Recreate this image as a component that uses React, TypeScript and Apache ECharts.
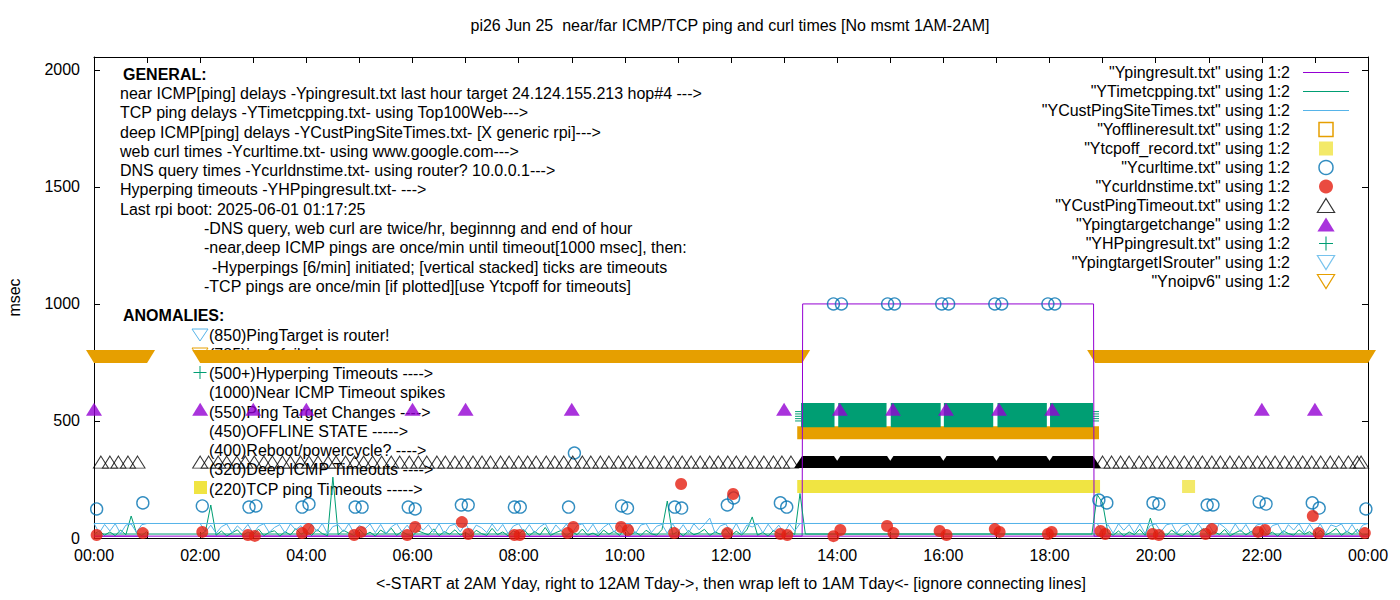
import React, { useEffect, useRef } from 'react';
import * as echarts from 'echarts';

const FONT = '"Liberation Sans", Arial, Helvetica, sans-serif';
const PURPLE = '#9400d3';
const GREEN = '#009e73';
const SKY = '#56b4e9';
const ORANGE = '#e69f00';
const YELLOW = '#f0e442';
const BLUE = '#0072b2';
const RED = '#e51e10';
const BLACK = '#000000';
const CLEAR = 'rgba(0,0,0,0)';

const TITLE = 'pi26 Jun 25 \u00a0near/far ICMP/TCP ping and curl times [No msmt 1AM-2AM]';
const X_NAME = '<-START at 2AM Yday, right to 12AM Tday->, then wrap left to 1AM Tday<- [ignore connecting lines]';
const Y_NAME = 'msec';

const X_TICK_LABELS = ['00:00', '02:00', '04:00', '06:00', '08:00', '10:00', '12:00', '14:00', '16:00', '18:00', '20:00', '22:00', '00:00'];
const Y_TICK_VALUES = [0, 500, 1000, 1500, 2000];

const N_PING = '"Ypingresult.txt" using 1:2';
const N_TCP = '"YTimetcpping.txt" using 1:2';
const N_DEEP = '"YCustPingSiteTimes.txt" using 1:2';
const N_OFFLINE = '"Yofflineresult.txt" using 1:2';
const N_TCPOFF = '"Ytcpoff_record.txt" using 1:2';
const N_CURL = '"Ycurltime.txt" using 1:2';
const N_DNS = '"Ycurldnstime.txt" using 1:2';
const N_CUSTTO = '"YCustPingTimeout.txt" using 1:2';
const N_TARGET = '"Ypingtargetchange" using 1:2';
const N_HP = '"YHPpingresult.txt" using 1:2';
const N_ISROUTER = '"YpingtargetISrouter" using 1:2';
const N_NOIPV6 = '"Ynoipv6" using 1:2';

// ---- data (hours of day; file order = 2AM..24h, then wraps to 0..1AM) ----
const pingTimes = [2.0, 5.0, 8.0, 11.0, 13.34, 13.35, 18.83, 18.84, 21.5, 24.0, 0.0, 1.0];
const pingValues = [8, 8, 7, 8, 8, 1000, 1000, 8, 8, 8, 8, 8];

const SAMPLE_STEP_H = 0.1;

const deepStartA = 2.0;
const deepA = [
  62, 25, 55, 20, 48, 60, 22, 52, 30, 58,
  19, 50, 61, 24, 45, 57, 21, 60, 35, 53,
  22, 59, 28, 62, 18, 49, 56, 26, 61, 20,
  54, 38, 60, 23, 58, 19, 47, 62, 27, 55,
  21, 60, 33, 57, 24, 61, 18, 52, 59, 26,
  62, 20, 55, 44, 23, 60, 29, 58, 19, 51,
  61, 25, 57, 22, 48, 62, 20, 56, 31, 60,
  18, 53, 61, 27, 59, 21, 46, 62, 24, 57,
  30, 60, 19, 55, 62, 23, 50, 58, 20, 61,
  26, 57, 22, 61, 35, 58, 85, 21, 52, 60,
  24, 62, 19, 56, 47, 60, 22, 59, 28, 55,
  21, 60, 30, 62,
];
const deepStartB = 18.9;
const deepB = [
  62,
  24, 57, 20, 61, 33, 58, 22, 60, 19, 54,
  60, 27, 56, 62, 21, 50, 59, 23, 61, 30,
  57, 19, 62, 45, 22, 60, 26, 58, 20, 55,
  61, 24, 53, 60, 19, 57, 34, 62, 22, 59,
  25, 61, 20, 56, 48, 60, 23, 58, 21, 55,
  62,
];
const deepStartC = 0.0;
const deepC = [62, 22, 58, 30, 61, 19, 55, 60, 24, 57, 62];

const tcpStartA = 2.0;
const tcpA = [
  15, 28, 141, 12, 30, 9, 22, 35, 11, 26,
  14, 38, 10, 24, 31, 8, 27, 13, 40, 16,
  29, 11, 36, 19, 9, 260, 14, 33, 21, 10,
  37, 12, 25, 8, 34, 18, 42, 11, 28, 15,
  9, 31, 22, 13, 39, 10, 27, 16, 35, 12,
  24, 8, 33, 19, 11, 41, 14, 26, 9, 30,
  17, 36, 10, 28, 13, 45, 11, 23, 32, 9,
  27, 14, 38, 12, 21, 9, 34, 16, 29, 11,
  40, 13, 25, 10, 33, 18, 12, 36, 158, 15,
  28, 9, 31, 14, 22, 37, 11, 26, 16, 39,
  10, 29, 13, 35, 90, 12, 24, 8, 32, 18,
  11, 27, 15, 190, 17,
];
const tcpStartB = 18.8;
const tcpB = [
  17, 185,
  150, 22, 12, 30, 9, 26, 14, 37, 11, 85,
  13, 28, 10, 34, 17, 9, 31, 12, 24, 40,
  11, 27, 15, 36, 9, 22, 33, 13, 29, 10,
  38, 14, 25, 8, 31, 19, 12, 35, 16, 27,
  10, 33, 13, 24, 41, 11, 29, 15, 37, 12,
  17,
];
const tcpStartC = 0.0;
const tcpC = [17, 30, 12, 26, 10, 34, 14, 94, 22, 11, 28];

const curlTimes = [0.05, 0.92, 2.04, 2.92, 3.05, 3.92, 4.05, 4.92, 5.05, 5.92, 6.05, 6.92, 7.05, 7.92, 8.03, 8.94, 9.05, 9.94, 10.05, 10.94, 11.07, 11.93, 12.05, 12.93, 13.05, 13.93, 14.08, 14.95, 15.08, 15.97, 16.1, 16.97, 17.1, 17.97, 18.1, 18.93, 19.08, 19.95, 20.06, 20.97, 21.08, 21.95, 22.08, 22.95, 23.08, 23.96];
const curlValues = [124, 150, 137, 132, 137, 132, 145, 132, 132, 132, 124, 141, 141, 132, 132, 132, 363, 137, 128, 132, 128, 141, 171, 150, 132, 1000, 1000, 1000, 1000, 1000, 1000, 1000, 1000, 1000, 1000, 162, 150, 150, 145, 141, 141, 154, 145, 150, 128, 124];

const dnsTimes = [0.05, 0.92, 2.04, 2.9, 3.03, 3.92, 4.04, 4.9, 5.03, 5.9, 6.05, 6.93, 7.05, 7.92, 8.02, 8.92, 9.03, 9.93, 10.06, 10.93, 11.06, 11.93, 12.04, 12.93, 13.06, 13.93, 14.06, 14.94, 15.06, 15.93, 16.06, 16.97, 17.06, 17.97, 18.04, 18.96, 19.05, 19.94, 20.06, 20.94, 21.06, 21.93, 22.06, 22.96, 23.07, 23.94];
const dnsValues = [13, 21, 26, 13, 9, 21, 38, 13, 26, 13, 47, 68, 17, 13, 13, 21, 47, 47, 34, 21, 231, 21, 188, 17, 13, 8, 34, 51, 21, 30, 13, 38, 26, 17, 26, 30, 17, 17, 13, 17, 38, 26, 34, 94, 21, 21];

const offlineLevel = 450;
const offlineSpans = [[13.37, 18.81]];

const tcpoffLevel = 220;
const tcpoffTimes = [20.62];
const tcpoffSpans = [[13.37, 18.83]];

const custTimeoutLevel = 320;
const custTimeoutTimes = [
  0.13, 0.3, 0.46, 0.64, 0.82,
  2.0, 2.16, 2.34, 2.5, 2.69, 2.85, 3.02, 3.2, 3.36, 3.55, 3.7, 3.89, 4.05, 4.22, 4.41, 4.56, 4.74, 4.91, 5.08, 5.25, 5.42, 5.6, 5.76, 5.94, 6.11, 6.27, 6.46, 6.62, 6.8, 6.96, 7.14, 7.31, 7.47, 7.66, 7.82, 8.0, 8.17, 8.33, 8.52, 8.68, 8.85, 9.02, 9.2, 9.36, 9.54, 9.7, 9.88, 10.05, 10.21, 10.4, 10.56, 10.74, 10.91, 11.08, 11.25, 11.42, 11.6, 11.76, 11.94, 12.1, 12.28, 12.45, 12.62, 12.8, 12.96, 13.13,
  19.0, 19.17, 19.34, 19.5, 19.69, 19.85, 20.03, 20.2, 20.36, 20.54, 20.71, 20.88, 21.06, 21.22, 21.4, 21.57, 21.74, 21.92, 22.08, 22.25, 22.43, 22.6, 22.77, 22.94, 23.11, 23.29, 23.45, 23.63, 23.8, 23.87,
];
const custTimeoutSpans = [[13.34, 13.94], [14.06, 14.94], [15.06, 15.94], [16.06, 16.94], [17.06, 17.94], [18.06, 18.82]];

const targetChangeLevel = 550;
const targetChangeTimes = [0.0, 2.0, 3.0, 4.0, 6.0, 7.0, 9.0, 13.0, 14.05, 15.05, 16.05, 17.05, 18.05, 22.0, 23.0];

const hpLevels = [500, 510, 520, 530, 540, 550];
const hpSpans = [[13.32, 13.95], [14.02, 14.93], [15.01, 15.95], [16.01, 16.94], [17.02, 17.95], [18.01, 18.82]];

const isRouterLevel = 850;
const isRouterTimes: number[] = [];

const noipv6Level = 785;
const noipv6Spans = [[0.0, 1.0], [2.0, 13.34], [18.86, 24.0]];

const generalLines = [
  'near ICMP[ping] delays -Ypingresult.txt last hour target 24.124.155.213 hop#4 --->',
  'TCP ping delays -YTimetcpping.txt- using Top100Web--->',
  'deep ICMP[ping] delays -YCustPingSiteTimes.txt- [X generic rpi]--->',
  'web curl times -Ycurltime.txt- using www.google.com--->',
  'DNS query times -Ycurldnstime.txt- using router? 10.0.0.1--->',
  'Hyperping timeouts -YHPpingresult.txt- --->',
  'Last rpi boot: 2025-06-01 01:17:25',
];
const noteLines = [
  '-DNS query, web curl are twice/hr, beginnng and end of hour',
  '-near,deep ICMP pings are once/min until timeout[1000 msec], then:',
  '-Hyperpings [6/min] initiated; [vertical stacked] ticks are timeouts',
  '-TCP pings are once/min [if plotted][use Ytcpoff for timeouts]',
];
const anomalyLines = [
  '(850)PingTarget is router!',
  '(785)ipv6 failed ----->',
  '(500+)Hyperping Timeouts ---->',
  '(1000)Near ICMP Timeout spikes',
  '(550)Ping Target Changes ---->',
  '(450)OFFLINE STATE ----->',
  '(400)Reboot/powercycle? ---->',
  '(320)Deep ICMP Timeouts ---->',
  '(220)TCP ping Timeouts ----->',
];

const LINE_ICON = 'path://M0,0H46V1.2H0Z';
const SQUARE_ICON = 'path://M0,0H13V13H0Z';
const UP_TRI_ICON = 'path://M8,0L16,13L0,13Z';
const PLUS_PATH = 'path://M6,0h1v6h6v1h-6v6h-1v-6h-6v-1h6z';
const DOWN_TRI_PATH = 'path://M0,0L16,0L8,13Z';

function sampled(start: number, vals: number[]) {
  return vals.map((v, i) => [Math.round((start + i * SAMPLE_STEP_H) * 100) / 100, v]);
}
function pairs(ts: number[], vs: number[]) {
  return ts.map((t, i) => [t, vs[i]]);
}

function rectBand(color: string, half: number) {
  return (_p: any, api: any) => {
    const a = api.coord([api.value(0), api.value(2)]);
    const b = api.coord([api.value(1), api.value(2)]);
    return {
      type: 'rect',
      shape: { x: a[0] - half, y: a[1] - half, width: b[0] - a[0] + 2 * half, height: 2 * half },
      style: { fill: color },
    };
  };
}
function upTriBand(color: string) {
  return (_p: any, api: any) => {
    const a = api.coord([api.value(0), api.value(2)]);
    const b = api.coord([api.value(1), api.value(2)]);
    const y = a[1];
    return {
      type: 'polygon',
      shape: { points: [[a[0] - 8, y + 5], [a[0], y - 7], [b[0], y - 7], [b[0] + 8, y + 5]] },
      style: { fill: color },
    };
  };
}
function downTriBand(color: string) {
  return (_p: any, api: any) => {
    const a = api.coord([api.value(0), api.value(2)]);
    const b = api.coord([api.value(1), api.value(2)]);
    const y = a[1];
    return {
      type: 'polygon',
      shape: { points: [[a[0] - 8, y - 4.3], [b[0] + 8, y - 4.3], [b[0], y + 8.7], [a[0], y + 8.7]] },
      style: { fill: color },
    };
  };
}
function hpBlock(color: string) {
  const lo = Math.min(...hpLevels);
  const hi = Math.max(...hpLevels);
  return (params: any, api: any) => {
    const s = api.value(0);
    const e = api.value(1);
    const pLo = api.coord([s, lo]);
    const pHi = api.coord([s, hi]);
    const pE = api.coord([e, lo]);
    const half = 6.3;
    const children: any[] = [
      {
        type: 'rect',
        shape: { x: pLo[0], y: pHi[1] - half, width: pE[0] - pLo[0], height: pLo[1] - pHi[1] + 2 * half },
        style: { fill: color },
      },
    ];
    const isFirst = params.dataIndex === 0;
    const isLast = params.dataIndex === hpSpans.length - 1;
    hpLevels.slice(0, 5).forEach((lv) => {
      const yy = api.coord([s, lv])[1];
      if (isFirst) children.push({ type: 'line', shape: { x1: pLo[0] - 6, y1: yy, x2: pLo[0], y2: yy }, style: { stroke: color, lineWidth: 1 } });
      if (isLast) children.push({ type: 'line', shape: { x1: pE[0], y1: yy, x2: pE[0] + 6, y2: yy }, style: { stroke: color, lineWidth: 1 } });
    });
    return { type: 'group', children };
  };
}

function buildOption() {
  const textStyle = { fontFamily: FONT, fontSize: 16, color: '#000' };
  const tickX = { show: true, inside: true, length: 6, lineStyle: { color: '#000', width: 1 } };
  const axLine = { show: true, onZero: false, lineStyle: { color: '#000', width: 1 } };
  const xFmt = (v: number) => {
    const r = Math.round(v);
    if (Math.abs(v - r) > 1e-6 || r % 2 !== 0) return '';
    return X_TICK_LABELS[r / 2] ?? '';
  };
  const yFmt = (v: number) => (Y_TICK_VALUES.indexOf(v) >= 0 ? String(v) : '');

  const graphics: any[] = [];
  graphics.push({
    type: 'text', x: 730, y: 25,
    style: { text: TITLE, fill: '#000', font: `16px ${FONT}`, align: 'center', verticalAlign: 'middle' },
  });
  graphics.push({
    type: 'text', x: 123, y: 74,
    style: { text: 'GENERAL:', fill: '#000', font: `bold 16px ${FONT}`, align: 'left', verticalAlign: 'middle' },
  });
  generalLines.forEach((t, i) => {
    graphics.push({
      type: 'text', x: 120, y: 93.5 + i * 19.25,
      style: { text: t, fill: '#000', font: `16px ${FONT}`, align: 'left', verticalAlign: 'middle' },
    });
  });
  noteLines.forEach((t, i) => {
    graphics.push({
      type: 'text', x: i === 2 ? 212 : 204, y: 228.5 + i * 19.25,
      style: { text: t, fill: '#000', font: `16px ${FONT}`, align: 'left', verticalAlign: 'middle' },
    });
  });
  graphics.push({
    type: 'text', x: 123, y: 315,
    style: { text: 'ANOMALIES:', fill: '#000', font: `bold 16px ${FONT}`, align: 'left', verticalAlign: 'middle' },
  });
  anomalyLines.forEach((t, i) => {
    graphics.push({
      type: 'text', x: 209, y: 335 + i * 19.25,
      style: { text: t, fill: '#000', font: `16px ${FONT}`, align: 'left', verticalAlign: 'middle' },
    });
  });
  // key markers beside anomaly labels
  graphics.push({ type: 'polygon', shape: { points: [[192, 329], [208, 329], [200, 341]] }, style: { fill: CLEAR, stroke: SKY, lineWidth: 1 } });
  graphics.push({ type: 'polygon', shape: { points: [[192, 348], [208, 348], [200, 360]] }, style: { fill: CLEAR, stroke: ORANGE, lineWidth: 1 } });
  graphics.push({ type: 'line', shape: { x1: 193.5, y1: 372.5, x2: 206.5, y2: 372.5 }, style: { stroke: GREEN, lineWidth: 1 } });
  graphics.push({ type: 'line', shape: { x1: 200, y1: 366, x2: 200, y2: 379 }, style: { stroke: GREEN, lineWidth: 1 } });
  graphics.push({ type: 'rect', shape: { x: 194, y: 481, width: 13, height: 13 }, style: { fill: YELLOW } });

  const legendData = [
    { name: N_PING, icon: LINE_ICON, itemStyle: { color: PURPLE, borderWidth: 0 } },
    { name: N_TCP, icon: LINE_ICON, itemStyle: { color: GREEN, borderWidth: 0 } },
    { name: N_DEEP, icon: LINE_ICON, itemStyle: { color: SKY, borderWidth: 0 } },
    { name: N_OFFLINE, icon: SQUARE_ICON, itemStyle: { color: CLEAR, borderColor: ORANGE, borderWidth: 1.5 } },
    { name: N_TCPOFF, icon: SQUARE_ICON, itemStyle: { color: YELLOW, borderWidth: 0 } },
    { name: N_CURL, icon: 'circle', itemStyle: { color: CLEAR, borderColor: BLUE, borderWidth: 1.5 } },
    { name: N_DNS, icon: 'circle', itemStyle: { color: RED, borderWidth: 0 } },
    { name: N_CUSTTO, icon: UP_TRI_ICON, itemStyle: { color: CLEAR, borderColor: BLACK, borderWidth: 1.2 } },
    { name: N_TARGET, icon: UP_TRI_ICON, itemStyle: { color: PURPLE, borderWidth: 0 } },
    { name: N_HP, icon: PLUS_PATH, itemStyle: { color: GREEN, borderWidth: 0 } },
    { name: N_ISROUTER, icon: DOWN_TRI_PATH, itemStyle: { color: CLEAR, borderColor: SKY, borderWidth: 1.2 } },
    { name: N_NOIPV6, icon: DOWN_TRI_PATH, itemStyle: { color: CLEAR, borderColor: ORANGE, borderWidth: 1.2 } },
  ];

  const lineCommon = { type: 'line', symbol: 'none', silent: true, clip: true, z: 2 };

  const series: any[] = [
    { ...lineCommon, name: N_PING, data: pairs(pingTimes, pingValues), lineStyle: { color: PURPLE, width: 1 }, itemStyle: { color: PURPLE } },
    { ...lineCommon, name: N_TCP, data: [...sampled(tcpStartA, tcpA), ...sampled(tcpStartB, tcpB), ...sampled(tcpStartC, tcpC)], lineStyle: { color: GREEN, width: 1 }, itemStyle: { color: GREEN } },
    { ...lineCommon, name: N_DEEP, data: [...sampled(deepStartA, deepA), ...sampled(deepStartB, deepB), ...sampled(deepStartC, deepC)], lineStyle: { color: SKY, width: 1 }, itemStyle: { color: SKY } },
    {
      type: 'custom', name: N_OFFLINE, silent: true, encode: { x: [0, 1], y: 2 },
      data: offlineSpans.map(([s, e]) => [s, e, offlineLevel]),
      renderItem: rectBand(ORANGE, 6.5), itemStyle: { color: ORANGE },
    },
    {
      type: 'scatter', name: N_TCPOFF, silent: true, symbol: 'rect', symbolSize: 13,
      data: tcpoffTimes.map((t) => [t, tcpoffLevel]), itemStyle: { color: YELLOW },
    },
    {
      type: 'custom', name: N_TCPOFF, silent: true, encode: { x: [0, 1], y: 2 },
      data: tcpoffSpans.map(([s, e]) => [s, e, tcpoffLevel]),
      renderItem: rectBand(YELLOW, 6.5), itemStyle: { color: YELLOW },
    },
    {
      type: 'scatter', name: N_CURL, silent: true, symbol: 'circle', symbolSize: 12,
      data: pairs(curlTimes, curlValues), itemStyle: { color: CLEAR, borderColor: BLUE, borderWidth: 1.4 },
    },
    {
      type: 'scatter', name: N_DNS, silent: true, symbol: 'circle', symbolSize: 12,
      data: pairs(dnsTimes, dnsValues), itemStyle: { color: RED },
    },
    {
      type: 'scatter', name: N_CUSTTO, silent: true, symbol: 'triangle', symbolSize: [15, 12], symbolOffset: [0, -1],
      data: custTimeoutTimes.map((t) => [t, custTimeoutLevel]), itemStyle: { color: CLEAR, borderColor: BLACK, borderWidth: 1 },
    },
    {
      type: 'custom', name: N_CUSTTO, silent: true, encode: { x: [0, 1], y: 2 },
      data: custTimeoutSpans.map(([s, e]) => [s, e, custTimeoutLevel]),
      renderItem: upTriBand(BLACK), itemStyle: { color: BLACK },
    },
    {
      type: 'scatter', name: N_TARGET, silent: true, symbol: 'triangle', symbolSize: [16, 13],
      data: targetChangeTimes.map((t) => [t, targetChangeLevel]), itemStyle: { color: PURPLE },
    },
    {
      type: 'custom', name: N_HP, silent: true, encode: { x: [0, 1], y: 2 },
      data: hpSpans.map(([s, e]) => [s, e, hpLevels[0]]),
      renderItem: hpBlock(GREEN), itemStyle: { color: GREEN },
    },
    {
      type: 'scatter', name: N_ISROUTER, silent: true, symbol: DOWN_TRI_PATH, symbolSize: [16, 13],
      data: isRouterTimes.map((t) => [t, isRouterLevel]), itemStyle: { color: CLEAR, borderColor: SKY, borderWidth: 1 },
    },
    {
      type: 'custom', name: N_NOIPV6, silent: true, encode: { x: [0, 1], y: 2 },
      data: noipv6Spans.map(([s, e]) => [s, e, noipv6Level]),
      renderItem: downTriBand(ORANGE), itemStyle: { color: ORANGE },
    },
  ];

  return {
    animation: false,
    backgroundColor: '#ffffff',
    textStyle: { fontFamily: FONT },
    grid: { left: 94, right: 32, top: 57, bottom: 62, containLabel: false, outerBoundsMode: 'none' },
    graphic: { elements: graphics },
    legend: {
      orient: 'vertical', right: 51, top: 64.5, align: 'right',
      itemWidth: 46, itemHeight: 14, itemGap: 3, padding: 0, selectedMode: false,
      textStyle: { ...textStyle, padding: [0, 8, 0, 0] },
      data: legendData,
    },
    xAxis: [
      {
        type: 'value', position: 'bottom', min: 0, max: 24, interval: 1,
        axisLine: axLine, axisTick: tickX, splitLine: { show: false },
        axisLabel: { ...textStyle, margin: 9, formatter: xFmt, showMinLabel: true, showMaxLabel: true },
        name: X_NAME, nameLocation: 'middle', nameGap: 37, nameTextStyle: textStyle,
      },
      {
        type: 'value', position: 'top', min: 0, max: 24, interval: 1,
        axisLine: axLine, axisTick: tickX, splitLine: { show: false }, axisLabel: { show: false },
      },
    ],
    yAxis: [
      {
        type: 'value', position: 'left', min: 0, max: 2055, interval: 500,
        axisLine: axLine, axisTick: tickX, splitLine: { show: false },
        axisLabel: { ...textStyle, margin: 14, formatter: yFmt, showMaxLabel: false },
        name: Y_NAME, nameLocation: 'middle', nameGap: 72, nameTextStyle: textStyle,
      },
      {
        type: 'value', position: 'right', min: 0, max: 2055, interval: 500,
        axisLine: axLine, axisTick: tickX, splitLine: { show: false }, axisLabel: { show: false },
      },
    ],
    series,
  };
}

export default function App() {
  const ref = useRef<HTMLDivElement>(null);
  useEffect(() => {
    if (!ref.current) return;
    const chart = echarts.init(ref.current, undefined, { renderer: 'svg' });
    chart.setOption(buildOption() as any);
    return () => chart.dispose();
  }, []);
  return (
    <div
      ref={ref}
      style={{ position: 'fixed', left: 0, top: 0, width: 1400, height: 600, background: '#fff' }}
    />
  );
}
